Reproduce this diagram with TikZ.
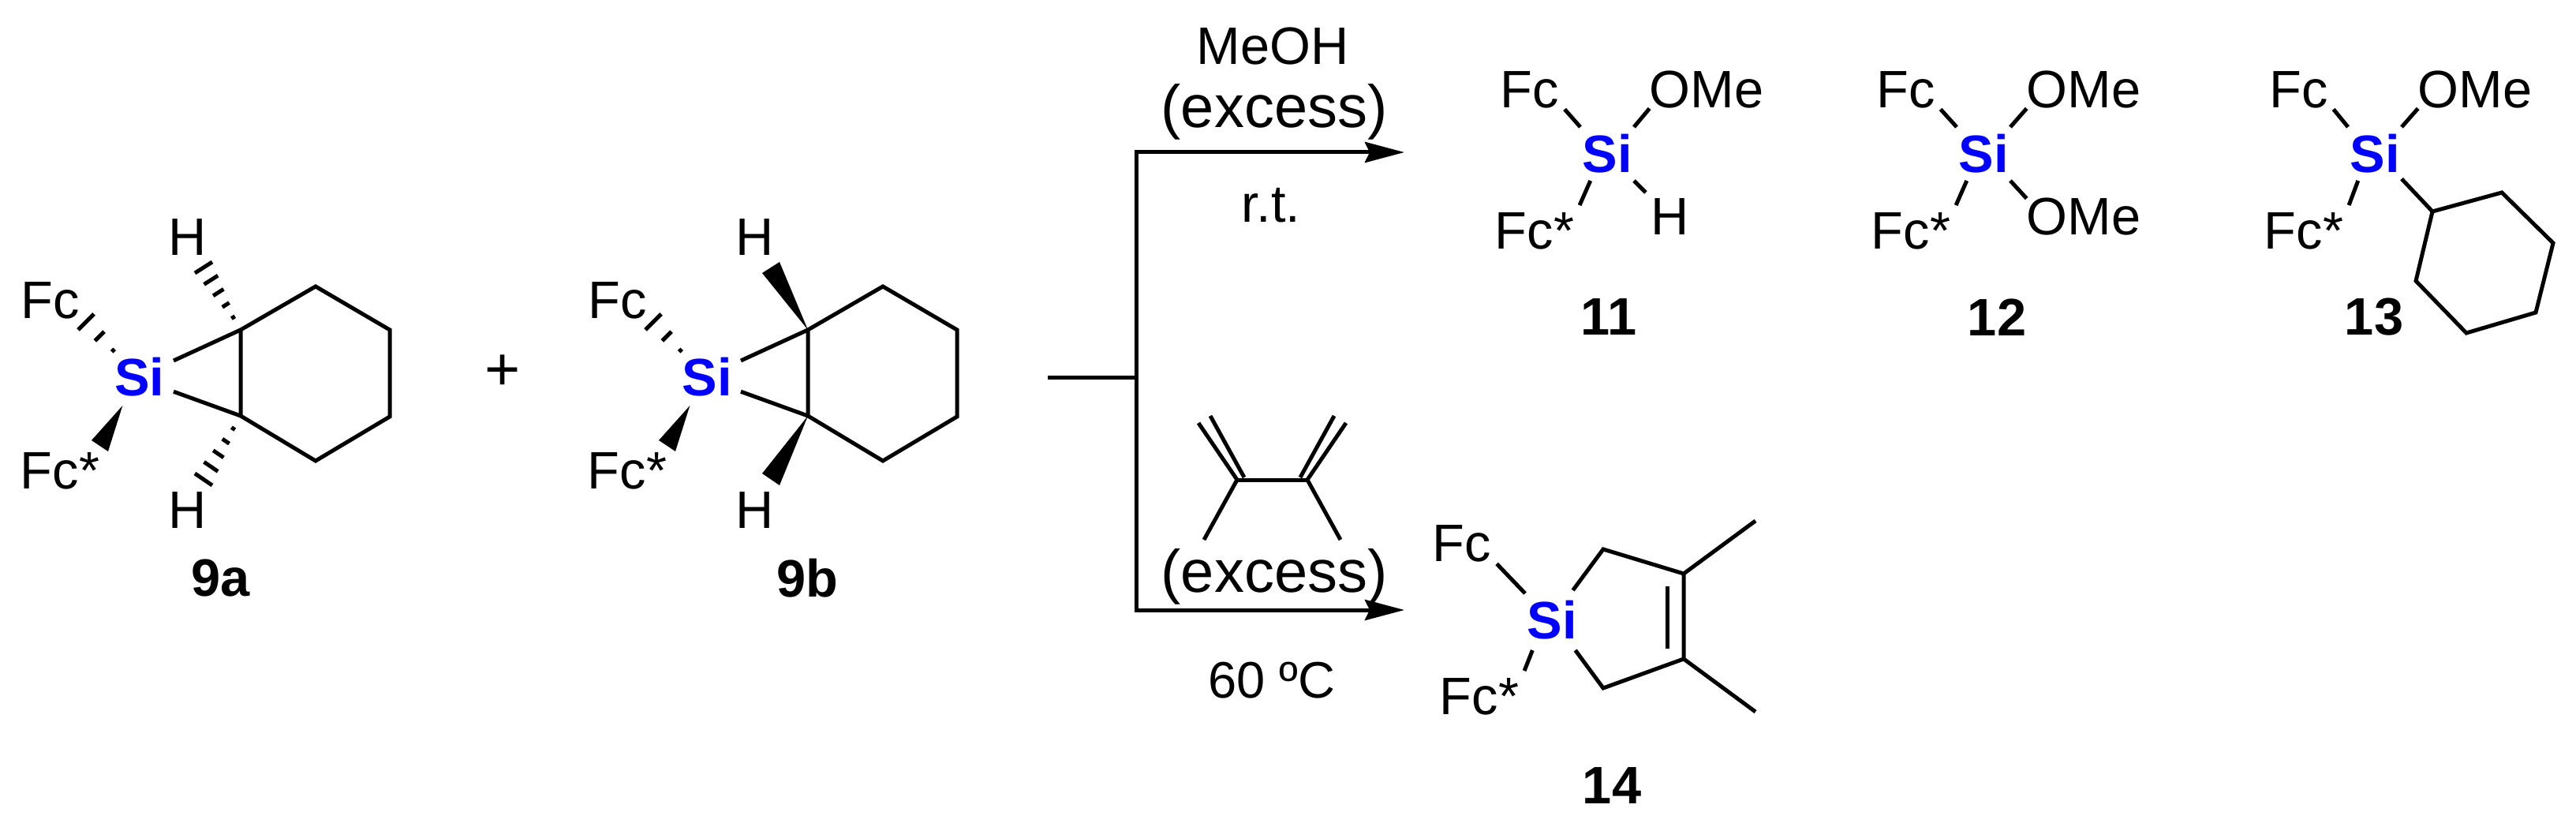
\documentclass[tikz,border=0pt]{standalone}
\usepackage{fontspec}
\setmainfont{Liberation Sans}
\usetikzlibrary{positioning,arrows.meta,calc}
% dashes of a hashed bond, from apex #1 towards the wide end #2--#3
\newcommand{\hashbond}[4]{\foreach \pos in {#4}{\draw[bond] ($(#1)!\pos!(#2)$) -- ($(#1)!\pos!(#3)$);}}

\begin{document}
\begin{tikzpicture}[
  atom/.style={font=\fontsize{19}{23}\selectfont, inner xsep=0.07cm, inner ysep=0.1cm, outer sep=0pt},
  ome/.style={atom, inner xsep=0pt},
  silicon/.style={font=\fontsize{19}{23}\selectfont\bfseries, text=blue, inner sep=0pt, outer sep=0pt,
                  minimum width=0.68cm, minimum height=0.68cm},
  cmpd/.style={font=\fontsize{19}{23}\selectfont\bfseries, inner sep=0pt},
  reagent/.style={font=\fontsize{19}{23}\selectfont, inner sep=0pt},
  excess/.style={font=\fontsize{21.6}{26}\selectfont, inner sep=0pt},
  bond/.style={line width=0.05cm},
  arr/.style={-{Stealth[length=0.5cm,width=0.26cm,inset=0.06cm]}, line width=0.05cm}
]
  \useasboundingbox (0,0) rectangle (32.65,-10.48);

  % 9a
  \node[silicon, minimum width=0.86cm, minimum height=0.72cm] (Sia) at (1.77,-4.78) {Si};
  \node[atom] (Fca) at (0.635,-3.81) {Fc};
  \node[atom] (Fsa) at (0.76,-5.97) {Fc*};
  \node[atom] (Hta) at (2.38,-3.01) {H};
  \node[atom] (Hba) at (2.38,-6.47) {H};
  \coordinate (C1a) at (3.05,-4.18);
  \coordinate (C2a) at (4.00,-3.63);
  \coordinate (C3a) at (4.94,-4.18);
  \coordinate (C4a) at (4.94,-5.28);
  \coordinate (C5a) at (4.00,-5.84);
  \coordinate (C6a) at (3.05,-5.27);
  \coordinate (hFa) at (1.51,-4.52);
  \draw[bond] (C1a) -- (C2a) -- (C3a) -- (C4a) -- (C5a) -- (C6a) -- cycle;
  \draw[bond] (Sia.26) -- (C1a);
  \draw[bond] (Sia.-23) -- (C6a);
  \hashbond{hFa}{0.99,-4.18}{1.19,-3.98}{0.18,0.59,1}
  \fill (Sia.-121) -- (1.16,-5.58) -- (1.37,-5.72) -- cycle;
  \hashbond{C1a}{2.47,-3.46}{2.69,-3.32}{0.2,0.4,0.6,0.8,1}
  \hashbond{C6a}{2.47,-6.00}{2.69,-6.15}{0.2,0.4,0.6,0.8,1}
  \node[cmpd] (L9a) at (2.80,-7.33) {9a};

  \node[font=\fontsize{22}{26}\selectfont, inner sep=0pt] (plus) at (6.37,-4.72) {+};

  % 9b
  \node[silicon, minimum width=0.86cm, minimum height=0.72cm] (Sib) at (8.96,-4.78) {Si};
  \node[atom] (Fcb) at (7.825,-3.81) {Fc};
  \node[atom] (Fsb) at (7.95,-5.97) {Fc*};
  \node[atom] (Htb) at (9.57,-3.01) {H};
  \node[atom] (Hbb) at (9.57,-6.47) {H};
  \coordinate (C1b) at (10.24,-4.18);
  \coordinate (C2b) at (11.19,-3.63);
  \coordinate (C3b) at (12.13,-4.18);
  \coordinate (C4b) at (12.13,-5.28);
  \coordinate (C5b) at (11.19,-5.84);
  \coordinate (C6b) at (10.24,-5.27);
  \coordinate (hFb) at (8.70,-4.52);
  \draw[bond] (C1b) -- (C2b) -- (C3b) -- (C4b) -- (C5b) -- (C6b) -- cycle;
  \draw[bond] (Sib.26) -- (C1b);
  \draw[bond] (Sib.-23) -- (C6b);
  \hashbond{hFb}{8.18,-4.18}{8.38,-3.98}{0.18,0.59,1}
  \fill (Sib.-121) -- (8.35,-5.58) -- (8.56,-5.72) -- cycle;
  \fill (C1b) -- (9.66,-3.46) -- (9.88,-3.32) -- cycle;
  \fill (C6b) -- (9.66,-6.00) -- (9.88,-6.15) -- cycle;
  \node[cmpd] (L9b) at (10.23,-7.33) {9b};

  % fork and arrows
  \coordinate (stem) at (13.28,-4.78);
  \coordinate (fork) at (14.40,-4.78);
  \coordinate (tipT) at (17.80,-1.93);
  \coordinate (tipB) at (17.80,-7.73);
  \draw[bond] (stem) -- (fork);
  \draw[arr] (fork) |- (tipT);
  \draw[arr] (fork) |- (tipB);

  % upper conditions
  \node[reagent] (MeOH) at (16.13,-0.59) {MeOH};
  \node[excess] (exT) at (16.15,-1.42) {(excess)};
  \node[reagent] (rt) at (16.11,-2.60) {r.t.};

  % diene and lower conditions
  \coordinate (D1) at (15.68,-6.08);
  \coordinate (D2) at (16.57,-6.08);
  \draw[bond] (D1) -- (D2);
  \draw[bond] (D1) -- (15.26,-6.84);
  \draw[bond] (D2) -- (16.99,-6.84);
  \draw[bond] (D1) -- (15.19,-5.36);
  \draw[bond] (15.77,-6.05) -- (15.34,-5.27);
  \draw[bond] (D2) -- (17.06,-5.36);
  \draw[bond] (16.48,-6.05) -- (16.91,-5.27);
  \node[excess] (exB) at (16.15,-7.31) {(excess)};
  \node[font=\fontsize{18.5}{22}\selectfont, inner sep=0pt] (temp) at (16.12,-8.62) {60 ºC};

  % 11
  \node[silicon] (Si11) at (20.37,-1.95) {Si};
  \node[atom] (Fc11) at (19.39,-1.14) {Fc};
  \node[ome] (OM11) at (21.63,-1.14) {OMe};
  \node[atom] (Fs11) at (19.45,-2.93) {Fc*};
  \node[atom] (H11) at (21.17,-2.75) {H};
  \draw[bond] (Fc11.-29) -- (Si11.135);
  \draw[bond] (OM11.198) -- (Si11.45);
  \draw[bond] (Fs11.30) -- (Si11.-122);
  \draw[bond] (H11.135) -- (Si11.-45);
  \node[cmpd] (L11) at (20.39,-4.02) {11};

  % 12
  \node[silicon] (Si12) at (25.14,-1.95) {Si};
  \node[atom] (Fc12) at (24.155,-1.14) {Fc};
  \node[ome] (OM12) at (26.41,-1.14) {OMe};
  \node[atom] (Fs12) at (24.22,-2.93) {Fc*};
  \node[ome] (OL12) at (26.41,-2.75) {OMe};
  \draw[bond] (Fc12.-29) -- (Si12.135);
  \draw[bond] (OM12.198) -- (Si12.45);
  \draw[bond] (Fs12.30) -- (Si12.-122);
  \draw[bond] (OL12.162) -- (Si12.-45);
  \node[cmpd] (L12) at (25.31,-4.02) {12};

  % 13
  \node[silicon] (Si13) at (30.10,-1.95) {Si};
  \node[atom] (Fc13) at (29.135,-1.14) {Fc};
  \node[ome] (OM13) at (31.37,-1.14) {OMe};
  \node[atom] (Fs13) at (29.20,-2.93) {Fc*};
  \coordinate (R1) at (30.83,-2.68);
  \coordinate (R2) at (31.71,-2.44);
  \coordinate (R3) at (32.36,-3.08);
  \coordinate (R4) at (32.14,-3.96);
  \coordinate (R5) at (31.26,-4.22);
  \coordinate (R6) at (30.62,-3.56);
  \draw[bond] (Fc13.-29) -- (Si13.135);
  \draw[bond] (OM13.198) -- (Si13.45);
  \draw[bond] (Fs13.30) -- (Si13.-122);
  \draw[bond] (Si13.-43) -- (R1);
  \draw[bond] (R1) -- (R2) -- (R3) -- (R4) -- (R5) -- (R6) -- cycle;
  \node[cmpd] (L13) at (30.09,-4.02) {13};

  % 14
  \node[silicon, minimum height=0.76cm] (Si14) at (19.67,-7.86) {Si};
  \node[atom] (Fc14) at (18.53,-6.89) {Fc};
  \node[atom] (Fs14) at (18.75,-8.83) {Fc*};
  \coordinate (P1) at (20.32,-6.96);
  \coordinate (P2) at (21.34,-7.27);
  \coordinate (P3) at (21.34,-8.35);
  \coordinate (P4) at (20.32,-8.72);
  \draw[bond] (Fc14.-30) -- (Si14.135);
  \draw[bond] (Fs14.30) -- (Si14.-123);
  \draw[bond] (Si14.55) -- (P1) -- (P2) -- (P3) -- (P4) -- (Si14.-52);
  \draw[bond] (21.13,-7.43) -- (21.13,-8.22);
  \draw[bond] (P2) -- (22.25,-6.60);
  \draw[bond] (P3) -- (22.25,-9.02);
  \node[cmpd] (L14) at (20.43,-9.96) {14};
\end{tikzpicture}
\end{document}
